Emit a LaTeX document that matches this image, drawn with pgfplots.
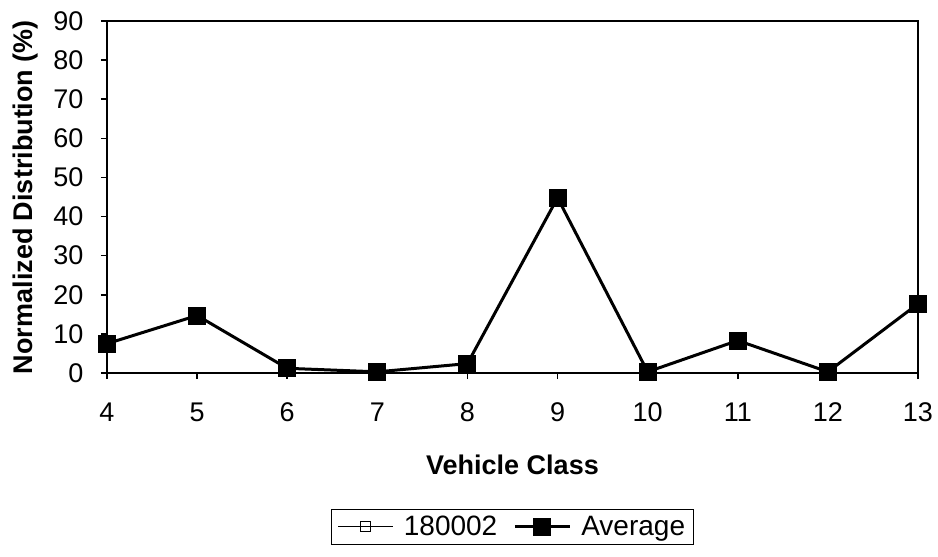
\documentclass[border=0pt]{standalone}
\usepackage{fontspec}
\setmainfont{Liberation Sans}
\usepackage{pgfplots}
\pgfplotsset{compat=1.18}
\begin{document}
\begin{tikzpicture}
\path[use as bounding box] (-107pt,-184pt) rectangle (831pt,373pt);
\begin{axis}[
  scale only axis, width=811pt, height=352pt,
  xmin=4, xmax=13, ymin=0, ymax=90,
  xtick={4,5,...,13}, ytick={0,10,...,90},
  tick align=outside, tick pos=left, major tick length=6pt,
  axis line style={line width=2pt},
  tick style={line width=1.6pt, black},
  /pgf/number format/assume math mode=true,
  ticklabel style={font=\fontsize{27}{30}\selectfont},
  xticklabel style={yshift=-20pt},
  yticklabel style={xshift=-14pt},
  xlabel={Vehicle Class},
  ylabel={Normalized Distribution (\%)},
  label style={font=\fontsize{27}{30}\selectfont\bfseries},
  xlabel style={at={(axis description cs:0.5,-0.26)}, anchor=center},
  ylabel style={at={(axis description cs:-0.101,0.5)}, anchor=center},
  legend columns=2,
  legend style={at={(axis description cs:0.5,-0.385)}, anchor=north,
    draw=black, line width=1pt, font=\fontsize{28}{31}\selectfont,
    inner xsep=6pt, inner ysep=5pt,
    /tikz/every odd column/.append style={column sep=8pt},
    /tikz/every even column/.append style={column sep=14pt}},
  legend image code/.code={%
    \draw[mark repeat=2,mark phase=2] plot coordinates {(0pt,0pt) (27.5pt,0pt) (55pt,0pt)};},
]
\addplot[black, line width=1pt, mark=square, mark size=5pt, mark options={line width=1pt, fill=white}]
  coordinates {(4,7.5) (5,14.7) (6,1.2) (7,0.3) (8,2.4) (9,44.8) (10,0.3) (11,8.3) (12,0.3) (13,17.7)};
\addlegendentry{180002}
\addplot[black, line width=3pt, mark=square*, mark size=8.5pt, mark options={line width=0pt}]
  coordinates {(4,7.5) (5,14.7) (6,1.2) (7,0.3) (8,2.4) (9,44.8) (10,0.3) (11,8.3) (12,0.3) (13,17.7)};
\addlegendentry{Average}
\end{axis}
\end{tikzpicture}
\end{document}
